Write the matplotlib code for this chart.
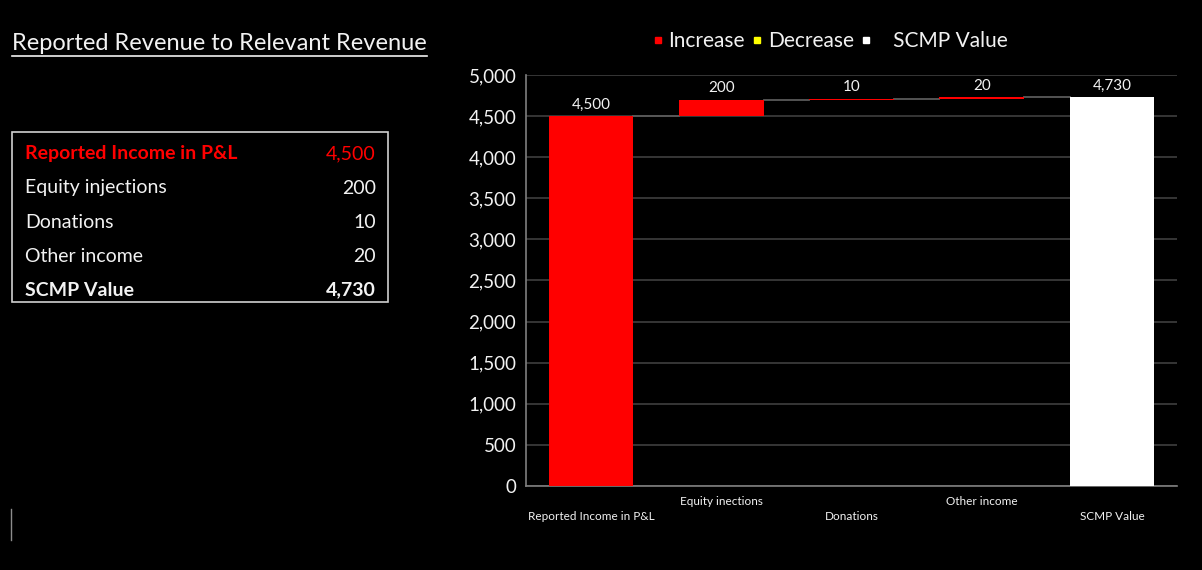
import matplotlib.pyplot as plt
import numpy as np
from matplotlib.lines import Line2D
from matplotlib.patches import Rectangle

plt.rcParams['font.family'] = ['Lato', 'DejaVu Sans']

# Waterfall steps, in thousands
categories = ['Reported Income in P&L', 'Equity inections', 'Donations',
              'Other income', 'SCMP Value']
start_value = 4500
changes = [200, 10, 20]

# Summary table on the left
table_labels = ['Reported Income in P&L', 'Equity injections', 'Donations',
                'Other income', 'SCMP Value']
table_values = [4500, 200, 10, 20, 4730]

yticks = np.arange(0, 5001, 500)

BG = '#000000'
FG = '#f2f2f2'
GRID = '#3f3f3f'
RED = '#ff0000'

# running totals for the floating bars
running = np.cumsum([start_value] + changes)
total = running[-1]
heights = [start_value] + changes + [total]
bottoms = [0] + list(running[:-1]) + [0]
colors = [RED] * (1 + len(changes)) + ['#ffffff']

fig = plt.figure(figsize=(12.02, 5.70), dpi=100, facecolor=BG)
ax = fig.add_axes([0.4376, 0.1474, 0.5416, 0.7211], facecolor=BG)

x = np.arange(len(categories))
ax.bar(x, heights, bottom=bottoms, width=0.65, color=colors, zorder=3)

# connectors between the tops of consecutive bars
tops = [b + h for b, h in zip(bottoms, heights)]
for i in range(len(x) - 1):
    ax.plot([x[i] + 0.325, x[i + 1] - 0.325], [tops[i], tops[i]],
            color='#5a5a5a', lw=1.3, zorder=2)

for xi, top, h in zip(x, tops, heights):
    ax.text(xi, top + 55, f'{h:,}', ha='center', va='bottom',
            color=FG, fontsize=11)

ax.set_xlim(-0.5, len(categories) - 0.5)
ax.set_ylim(0, 5000)
ax.set_yticks(yticks, labels=[f'{v:,}' for v in yticks])
ax.yaxis.grid(True, color=GRID, lw=1.2, zorder=0)
ax.tick_params(axis='y', length=0, pad=7, labelcolor=FG, labelsize=13.5)

# stagger the category labels on two rows
xlabels = [('\n' + c) if i % 2 == 0 else c for i, c in enumerate(categories)]
ax.set_xticks(x, labels=xlabels)
ax.tick_params(axis='x', length=0, pad=7, labelcolor=FG, labelsize=8.5)
for t in ax.get_xticklabels():
    t.set_linespacing(1.45)

for side in ['top', 'right']:
    ax.spines[side].set_visible(False)
for side in ['left', 'bottom']:
    ax.spines[side].set_color('#7f7f7f')
    ax.spines[side].set_linewidth(1.2)

handles = [
    Line2D([], [], marker='s', ls='', color=RED, markersize=5),
    Line2D([], [], marker='s', ls='', color='#ffff00', markersize=5),
    Line2D([], [], marker='s', ls='', color='#ffffff', markersize=5),
]
fig.legend(handles, ['Increase', 'Decrease', '   SCMP Value'], loc='center',
           bbox_to_anchor=(0.6905, 0.928), ncol=3, frameon=False,
           fontsize=15, labelcolor=FG, handlelength=0.5,
           handletextpad=0.25, columnspacing=0.35)

# heading with underline
title = fig.text(12 / 1202, 1 - 43 / 570, 'Reported Revenue to Relevant Revenue',
                 color=FG, fontsize=17, ha='left', va='center')
fig.canvas.draw()
bb = title.get_window_extent().transformed(fig.transFigure.inverted())
fig.add_artist(Line2D([bb.x0, bb.x1], [1 - 56 / 570] * 2,
                      transform=fig.transFigure, color=FG, lw=1.2))

# summary table
fig.add_artist(Rectangle((12 / 1202, 1 - 302 / 570), 376 / 1202, 170 / 570,
                         transform=fig.transFigure, fill=False,
                         edgecolor='#d0d0d0', lw=1.2))
row_y = [154, 188, 222, 256, 290]
for i, (lab, val, yy) in enumerate(zip(table_labels, table_values, row_y)):
    color = RED if i == 0 else FG
    weight = 'bold' if i in (0, len(table_labels) - 1) else 'normal'
    fig.text(25 / 1202, 1 - yy / 570, lab, color=color, fontsize=14,
             fontweight=weight, ha='left', va='center')
    fig.text(376 / 1202, 1 - yy / 570, f'{val:,}', color=color, fontsize=14,
             fontweight='bold' if i == len(table_labels) - 1 else 'normal',
             ha='right', va='center')

fig.add_artist(Line2D([11 / 1202] * 2, [1 - 509 / 570, 1 - 540 / 570],
                      transform=fig.transFigure, color='#8c8c8c', lw=1))

fig.savefig('out.png', dpi=100, facecolor=BG)
